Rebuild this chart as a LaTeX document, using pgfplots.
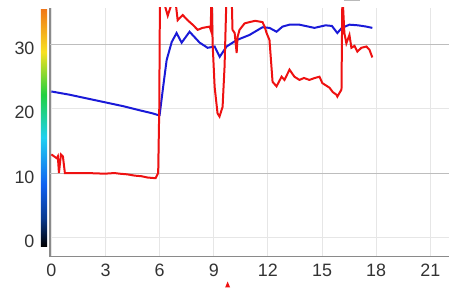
\documentclass[border=0pt]{standalone}
\usepackage{pgfplots}
\pgfplotsset{compat=1.18}
\usepackage{fontspec}
\setmainfont{Liberation Sans}
\definecolor{axgray}{HTML}{8A8A8A}
\definecolor{lblgray}{HTML}{333333}
\definecolor{gridA}{HTML}{BDBDBD}
\definecolor{gridB}{HTML}{E6E6E6}
\definecolor{myred}{HTML}{EE1111}
\definecolor{myblue}{HTML}{1A1AD8}
\definecolor{cbblue}{HTML}{1060F0}
\definecolor{cbcyan}{HTML}{20D0F0}
\definecolor{cbgreen}{HTML}{20D040}
\definecolor{cbyellow}{HTML}{F8E020}
\definecolor{cborange}{HTML}{F07818}
\pgfdeclareverticalshading{cbar}{100bp}{
  color(0bp)=(black);
  color(25bp)=(black);
  color(31bp)=(cbblue!60!black);
  color(38bp)=(cbblue);
  color(48bp)=(cbcyan);
  color(57bp)=(cbgreen);
  color(66bp)=(cbyellow);
  color(75bp)=(cborange);
  color(100bp)=(cborange)}
\begin{document}
\begin{tikzpicture}
\begin{axis}[
  scale only axis,
  width=400bp, height=249bp,
  xmin=-0.08, xmax=22.05,
  ymin=-3, ymax=35.7,
  axis x line*=bottom, axis y line*=left,
  axis line style={axgray, line width=1.6bp},
  x axis line style={-}, y axis line style={-},
  xtick={0,3,...,21}, ytick={0,10,20,30},
  major tick length=0pt,
  grid=major,
  major grid style={gridB, line width=0.8bp},
  tick label style={font=\fontsize{18}{20}\selectfont, text=lblgray},
  yticklabel style={xshift=-12bp, yshift=-4bp},
  xticklabel style={yshift=-4bp},
  /pgf/number format/assume math mode=true,
  clip=true,
]
% darker horizontal grid lines at 10 and 30
\addplot[gridA, line width=0.8bp, forget plot] coordinates {(-0.08,10) (22.05,10)};
\addplot[gridA, line width=0.8bp, forget plot] coordinates {(-0.08,30) (22.05,30)};
% blue series
\addplot[myblue, line width=2bp] coordinates {
(0,22.7) (1,22.2) (2,21.6) (3,21.0) (4,20.4) (5,19.7) (5.6,19.3) (5.95,19.0)
(6.0,19.0) (6.2,23.5) (6.39,27.6) (6.67,30.4) (6.94,31.8) (7.22,30.3) (7.66,32.0)
(8.22,30.3) (8.66,29.5) (9.05,29.7) (9.33,28.1) (9.71,29.7) (10.27,30.7)
(10.98,31.5) (11.70,32.7) (12.09,32.6) (12.48,32.0) (12.81,32.8) (13.20,33.1)
(13.75,33.1) (14.58,32.6) (15.2,33.0) (15.55,32.9) (15.85,31.8) (16.1,32.6)
(16.52,33.1) (17.0,33.0) (17.46,32.8) (17.79,32.6)
};
% red series
\addplot[myred, line width=2bp] coordinates {
(0,12.9) (0.3,12.3) (0.36,12.6) (0.42,10.0) (0.53,12.9) (0.64,12.6) (0.75,10.0)
(1.2,10.0) (2.0,10.0) (2.96,9.9) (3.5,10.0) (3.79,9.9) (4.2,9.8) (4.62,9.6)
(5.0,9.5) (5.34,9.3) (5.78,9.2) (5.92,10) (5.98,20) (6.02,38)
(6.3,36) (6.45,34.5) (6.6,35.8) (6.83,38) (7.0,33.8) (7.28,34.6) (7.55,33.8)
(7.83,33.1) (8.11,32.3) (8.38,32.6) (8.77,32.8) (8.83,32.3) (8.88,38)
(8.94,30) (9.05,23.4) (9.21,19.3) (9.32,18.8) (9.49,20.3) (9.60,26.6) (9.71,38)
(9.99,38) (10.04,32.3) (10.16,31.8) (10.27,28.7) (10.32,31.2) (10.43,32.3)
(10.71,33.3) (10.98,33.5) (11.3,33.7) (11.70,33.5) (11.82,32.8) (11.93,31.8)
(12.09,30.7) (12.26,24.2) (12.48,23.5) (12.76,25.0) (12.92,24.5) (13.20,26.1)
(13.47,25.0) (13.75,24.5) (14.0,24.8) (14.30,24.5) (14.6,24.8) (14.86,25.0)
(15.02,24.0) (15.41,23.3) (15.6,22.6) (15.80,22.2) (15.85,21.9) (16.08,23.0)
(16.13,38) (16.24,31.8) (16.35,30.2) (16.52,31.5) (16.63,29.5) (16.8,29.8)
(16.96,28.9) (17.18,29.5) (17.46,29.7) (17.63,29.2) (17.79,28.0)
};
\end{axis}
% colour bar and bounding box
\begin{axis}[
  scale only axis,
  width=400bp, height=249bp,
  xmin=-0.08, xmax=22.05,
  ymin=-3, ymax=35.7,
  hide axis, clip=false,
]
\addplot[draw=none, forget plot] coordinates {(0,0)};
\shade[shading=cbar] (axis cs:-0.575,-1.45) rectangle (axis cs:-0.24,35.5);
\coordinate (BL) at ([xshift=-50bp,yshift=-31bp]rel axis cs:0,0);
\coordinate (TR) at ([yshift=8bp]rel axis cs:1,1);
\fill[myred] ([yshift=-25bp]axis cs:9.77,-3) -- ([xshift=-2.5bp,yshift=-31bp]axis cs:9.77,-3) -- ([xshift=2.5bp,yshift=-31bp]axis cs:9.77,-3) -- cycle;
\fill[gray!55] ([yshift=8bp]axis cs:16.23,35.7) rectangle ([xshift=16bp,yshift=6.5bp]axis cs:16.23,35.7);
\end{axis}
\path (BL) rectangle (TR);
\end{tikzpicture}
\end{document}
